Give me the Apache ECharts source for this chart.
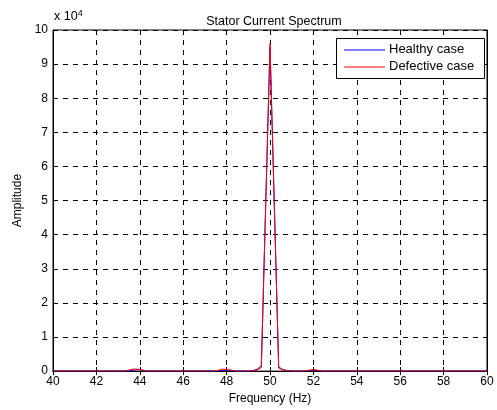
<!DOCTYPE html>
<html><head><meta charset="utf-8">
<script src="https://cdn.jsdelivr.net/npm/echarts@6/dist/echarts.min.js"></script>
<style>html,body{margin:0;padding:0;background:#fff}#c{width:497px;height:410px}</style>
</head><body><div id="c"></div>
<script>
const freqHealthy = [40, 43.4, 43.7, 44.0, 44.3, 47.5, 47.8, 48.1, 48.4, 49.1, 49.4, 49.6, 50.0, 50.4, 50.6, 51.0, 51.6, 52.0, 52.4, 60];
const healthy     = [0,  0,    300,  500,  0,    0,    200,  300,  0,    0,    500,  1500, 95000, 1200, 400, 0,    0,    300,  0,    0];
const freqDefect  = [40, 43.3, 43.7, 44.0, 44.3, 47.5, 47.8, 48.1, 48.4, 49.1, 49.4, 49.6, 50.0, 50.4, 50.6, 51.0, 51.6, 52.0, 52.4, 60];
const defective   = [0,  0,    600,  500,  0,    0,    600,  400,  0,    0,    300,  1000, 96000, 900,  300, 0,    0,    500,  0,    0];
const xTicks = [40, 42, 44, 46, 48, 50, 52, 54, 56, 58, 60];
const yTicks = [0,1,2,3,4,5,6,7,8,9,10];
const seriesNames = ['Healthy case', 'Defective case'];

const font = 'Liberation Sans, Arial, sans-serif';
const chart = echarts.init(document.getElementById('c'));
const pairs = (xs, ys) => xs.map((x, i) => [x, ys[i]]);
const dash = {color: '#000', type: [5, 5], width: 1};
const xMin = xTicks[0], xMax = xTicks[xTicks.length-1];
const yMax = yTicks[yTicks.length-1] * 10000;
chart.setOption({
  backgroundColor: '#fff',
  animation: false,
  title: {text: 'Stator Current Spectrum', left: 269, textAlign: 'center', top: 10,
    textStyle: {fontFamily: font, fontSize: 12.5, fontWeight: 'normal', color: '#000'}},
  grid: {left: 53, right: 10, top: 30, bottom: 32, show: true, borderColor: '#000', borderWidth: 1, backgroundColor: 'transparent'},
  legend: {show: false},
  xAxis: [{type: 'value', min: xMin, max: xMax, interval: 2,
    name: 'Frequency (Hz)', nameLocation: 'middle', nameGap: 21,
    nameTextStyle: {fontFamily: font, fontSize: 12, color: '#000'},
    axisLine: {lineStyle: {color: '#000'}}, axisTick: {inside: true, length: 4, lineStyle: {color: '#000'}},
    axisLabel: {fontFamily: font, fontSize: 12, color: '#000', margin: 5},
    splitLine: {show: true, lineStyle: dash}},
   {type: 'value', position: 'top', min: xMin, max: xMax, interval: 2,
    axisLine: {lineStyle: {color: '#000'}}, axisTick: {inside: true, length: 4, lineStyle: {color: '#000'}},
    axisLabel: {show: false}, splitLine: {show: false}}],
  yAxis: [{type: 'value', min: 0, max: yMax, interval: 10000,
    name: 'Amplitude', nameLocation: 'middle', nameGap: 28,
    nameTextStyle: {fontFamily: font, fontSize: 12, color: '#000'},
    axisLine: {show: true, lineStyle: {color: '#000'}}, axisTick: {show: true, inside: true, length: 4, lineStyle: {color: '#000'}},
    axisLabel: {fontFamily: font, fontSize: 12, color: '#000', margin: 5, formatter: v => String(v / 10000)},
    splitLine: {show: true, lineStyle: dash}},
   {type: 'value', position: 'right', min: 0, max: yMax, interval: 10000,
    axisLine: {show: true, lineStyle: {color: '#000'}}, axisTick: {show: true, inside: true, length: 4, lineStyle: {color: '#000'}},
    axisLabel: {show: false}, splitLine: {show: false}}],
  series: [
    {name: seriesNames[0], type: 'line', data: pairs(freqHealthy, healthy), showSymbol: false, lineStyle: {color: '#0000ff', width: 1}, itemStyle: {color: '#0000ff'}},
    {name: seriesNames[1], type: 'line', data: pairs(freqDefect, defective), showSymbol: false, lineStyle: {color: '#ff0000', width: 1}, itemStyle: {color: '#ff0000'}}
  ],
  graphic: [
    {type: 'text', left: 54, top: 9, z: 100, style: {text: '{a|x 10}{b|4}', rich: {a: {fontFamily: font, fontSize: 12.5, fill: '#000'}, b: {fontFamily: font, fontSize: 9, fill: '#000', verticalAlign: 'top', padding: [0,0,7,0]}}}},
    {type: 'rect', z: 100, shape: {x: 336.5, y: 38.5, width: 148, height: 40}, style: {fill: '#fff', stroke: '#000', lineWidth: 1}},
    {type: 'line', z: 101, shape: {x1: 344, y1: 50, x2: 385, y2: 50}, style: {stroke: '#0000ff', lineWidth: 1}},
    {type: 'line', z: 101, shape: {x1: 344, y1: 67, x2: 385, y2: 67}, style: {stroke: '#ff0000', lineWidth: 1}},
    {type: 'text', z: 101, left: 389, top: 43, style: {text: seriesNames[0], fontFamily: font, fontSize: 13, fill: '#000'}},
    {type: 'text', z: 101, left: 389, top: 60, style: {text: seriesNames[1], fontFamily: font, fontSize: 13, fill: '#000'}}
  ]
});
</script></body></html>
